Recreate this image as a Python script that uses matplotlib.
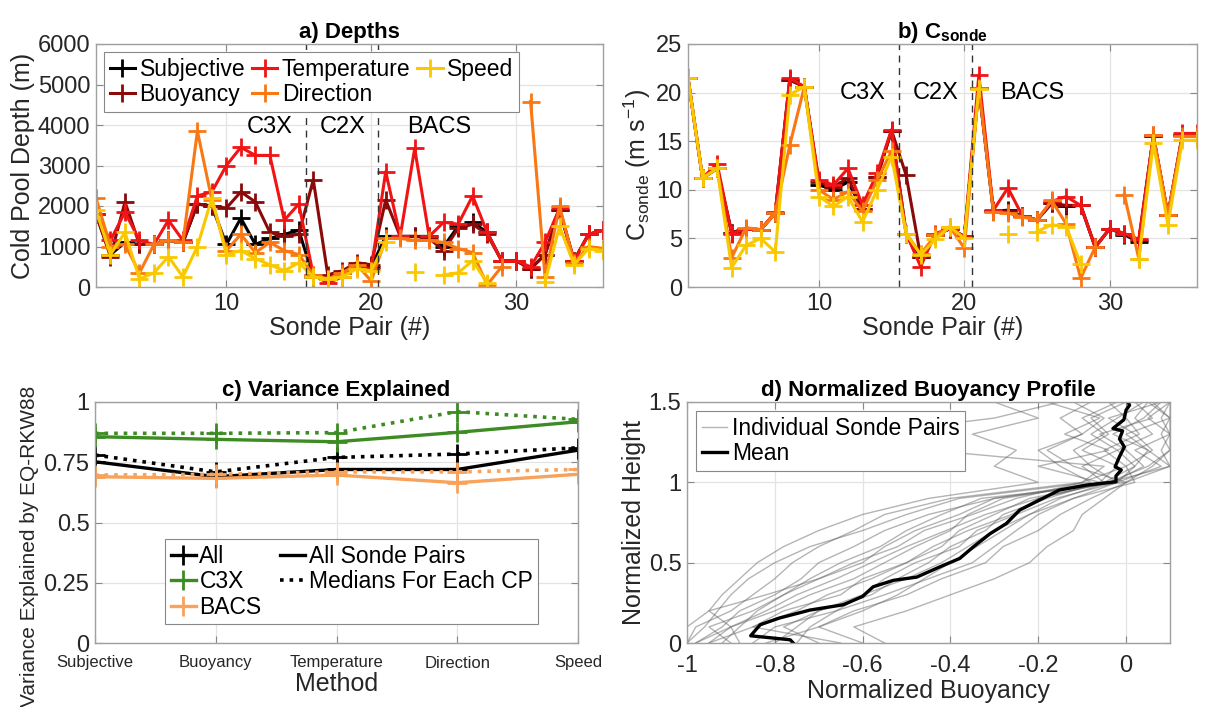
import numpy as np
import matplotlib
matplotlib.use("Agg")
import matplotlib.pyplot as plt
from matplotlib.lines import Line2D

plt.rcParams['font.family'] = ['Liberation Sans', 'DejaVu Sans']
plt.rcParams['mathtext.fontset'] = 'custom'
plt.rcParams['mathtext.rm'] = 'Liberation Sans'
plt.rcParams['mathtext.it'] = 'Liberation Sans:italic'
plt.rcParams['mathtext.bf'] = 'Liberation Sans:bold'

nan = np.nan
# ---------------- data ----------------
pairs = list(range(1, 37))

subj_a = [1800, 800, 1100, 1050, 1050, 1150, 1100, 2050, 2000, 1050, 1700, 1050, 1200, 1300, 1400, 250, 200, 350,
          550, 500, 1250, 1250, 1250, 1250, 1000, 1500, 1600, 1350, 650, 650, 450, 800, 1900, 650, 1300, 1400]
buoy_a = [1800, 750, 2100, 1050, 1050, 1150, 1100, 2050, 2000, 1950, 2350, 2100, 1350, 1250, 1300, 2650, 300, 400,
          600, 550, 2150, 1250, 1250, 1200, 900, 1450, 1550, 1300, 650, 650, 450, 800, 1900, 650, 1300, 1400]
temp_a = [1800, 1150, 1850, 1150, 1050, 1650, 1150, 2250, 2350, 3000, 3450, 3250, 3250, 1650, 2050, 300, 100, 250,
          500, 450, 2850, 1250, 3420, 1250, 1600, 1550, 2250, 1350, 650, 650, 500, 1100, 1950, 650, 1300, 1400]
dir_a = [2200, 1000, 1050, 350, 1050, 1150, 1100, 3850, 2150, 900, 1300, 850, 1100, 900, 800, 300, 200, 350,
         550, 150, 1200, 1200, 1150, 1150, 1100, 950, 850, 50, 500, nan, 4580, 250, 2000, 600, 1000, 950]
speed_a = [1900, 800, 1350, 200, 350, 750, 250, 1000, 2200, 800, 900, 700, 550, 400, 600, 250, 200, 250,
           450, 400, 1100, nan, 380, nan, 300, 350, 650, 100, nan, nan, nan, 130, 1500, 550, 950, 900]

subj_b = [21.5, 11.2, 12.2, 5.6, 6.0, 5.9, 7.6, 21.3, 20.6, 10.5, 10.0, 10.8, 8.0, 11.3, 16.1, 5.5, 3.1, 5.3,
          6.0, 5.2, 20.5, 7.8, 7.9, 7.3, 6.9, 8.6, 8.3, 8.4, 4.1, 6.0, 5.4, 4.6, 15.5, 7.4, 15.6, 15.6]
buoy_b = [21.5, 11.2, 12.2, 5.6, 6.0, 5.9, 7.6, 21.3, 20.6, 10.8, 10.3, 11.2, 8.0, 11.3, 16.1, 11.5, 3.1, 5.3,
          6.0, 5.2, 20.5, 7.8, 7.8, 7.3, 6.9, 8.6, 8.4, 8.4, 4.1, 6.0, 5.5, 4.8, 15.5, 7.4, 15.6, 15.6]
temp_b = [21.5, 11.2, 12.7, 5.5, 6.0, 5.9, 7.7, 21.5, 20.6, 11.0, 10.5, 12.2, 8.4, 11.7, 16.2, 5.5, 2.1, 5.5,
          6.0, 5.2, 21.8, 7.9, 10.2, 7.3, 6.9, 8.8, 9.3, 8.4, 4.1, 6.0, 5.5, 4.9, 15.6, 7.4, 15.8, 15.8]
dir_b = [21.5, 11.2, 12.2, 3.0, 6.1, 5.9, 7.6, 14.6, 20.6, 10.0, 9.0, 9.8, 7.8, 11.0, 14.0, 5.5, 3.4, 5.3,
         6.2, 4.0, 20.5, 7.7, 7.6, 7.2, 6.9, 8.9, 6.5, 0.9, 4.1, nan, 9.5, 2.9, 15.6, 7.4, 15.5, 15.5]
speed_b = [21.5, 11.2, 12.2, 2.0, 4.3, 5.0, 3.6, 19.8, 20.6, 9.3, 8.3, 9.3, 6.7, 10.0, 13.4, 5.5, 3.3, 4.9,
           6.2, 5.0, 20.4, nan, 5.5, nan, 5.7, 6.4, 6.2, 2.4, nan, nan, nan, 2.9, 14.8, 6.4, 15.1, 15.1]

methods = ['Subjective', 'Buoyancy', 'Temperature', 'Direction', 'Speed']
all_pairs = [0.752, 0.69, 0.72, 0.72, 0.80]
all_med = [0.78, 0.71, 0.77, 0.784, 0.81]
c3x_pairs = [0.856, 0.845, 0.835, 0.874, 0.918]
c3x_med = [0.87, 0.87, 0.873, 0.96, 0.928]
bacs_pairs = [0.69, 0.683, 0.697, 0.665, 0.70]
bacs_med = [0.697, 0.70, 0.71, 0.71, 0.72]

heights = [0.0, 0.1, 0.2, 0.3, 0.4, 0.5, 0.6, 0.7, 0.8, 0.9, 1.0, 1.1, 1.2, 1.3, 1.4, 1.5]
profiles = [
    [-0.95, -0.9, -0.82, -0.75, -0.66, -0.58, -0.5, -0.41, -0.32, -0.2, -0.05, 0.02, 0.05, -0.03, 0.04, 0.08],
    [-0.98, -0.92, -0.88, -0.8, -0.74, -0.7, -0.62, -0.55, -0.45, -0.3, -0.02, -0.08, -0.12, -0.05, -0.1, -0.02],
    [-0.7, -0.78, -0.7, -0.6, -0.5, -0.42, -0.36, -0.3, -0.22, -0.15, -0.04, 0.05, 0.1, 0.08, 0.1, 0.06],
    [-1.0, -0.96, -0.93, -0.9, -0.86, -0.8, -0.72, -0.6, -0.5, -0.38, -0.08, -0.15, -0.2, -0.1, -0.05, -0.12],
    [-0.85, -0.8, -0.66, -0.55, -0.45, -0.35, -0.3, -0.25, -0.2, -0.12, -0.02, 0.08, 0.02, 0.1, 0.05, 0.1],
    [-0.9, -0.95, -0.85, -0.78, -0.7, -0.62, -0.52, -0.46, -0.35, -0.25, -0.1, 0.0, -0.05, 0.03, 0.0, -0.04],
    [-0.6, -0.7, -0.62, -0.5, -0.42, -0.32, -0.28, -0.2, -0.15, -0.08, 0.0, 0.1, 0.08, 0.1, 0.1, 0.1],
    [-1.0, -1.0, -0.95, -0.92, -0.88, -0.84, -0.78, -0.7, -0.6, -0.45, -0.2, -0.3, -0.25, -0.35, -0.2, -0.3],
    [-0.8, -0.75, -0.7, -0.58, -0.52, -0.45, -0.4, -0.32, -0.28, -0.18, -0.06, -0.02, -0.1, -0.04, -0.08, 0.0],
    [-0.95, -0.85, -0.78, -0.65, -0.6, -0.5, -0.42, -0.38, -0.3, -0.22, -0.03, 0.04, 0.0, -0.06, 0.06, 0.02],
    [-0.55, -0.62, -0.5, -0.4, -0.3, -0.22, -0.18, -0.12, -0.1, -0.05, 0.0, 0.06, 0.1, 0.1, 0.08, 0.1],
    [-1.0, -0.98, -0.9, -0.85, -0.8, -0.76, -0.7, -0.62, -0.55, -0.4, -0.1, -0.05, -0.45, -0.6, -0.3, -0.15],
    [-0.88, -0.9, -0.8, -0.72, -0.62, -0.55, -0.48, -0.4, -0.36, -0.28, -0.05, -0.1, -0.02, -0.08, -0.02, 0.04],
    [-0.75, -0.72, -0.66, -0.6, -0.55, -0.48, -0.38, -0.34, -0.25, -0.16, -0.02, 0.02, -0.02, 0.06, 0.02, 0.05],
    [-0.92, -0.88, -0.84, -0.78, -0.72, -0.65, -0.56, -0.5, -0.42, -0.33, 0.0, -0.12, -0.18, -0.1, -0.15, -0.08],
    [-0.65, -0.85, -0.75, -0.68, -0.58, -0.5, -0.44, -0.36, -0.26, -0.2, -0.04, 0.1, 0.05, 0.0, 0.1, 0.05],
    [-0.98, -0.9, -0.95, -0.82, -0.7, -0.6, -0.55, -0.48, -0.38, -0.3, -0.06, -0.2, -0.04, -0.14, -0.06, -0.18],
    [-0.82, -0.7, -0.6, -0.52, -0.46, -0.4, -0.34, -0.28, -0.22, -0.12, 0.02, 0.0, 0.06, 0.02, -0.04, 0.08],
]

mean_b = [-0.758, -0.765, -0.855, -0.84, -0.833, -0.79, -0.72, -0.644, -0.6, -0.576, -0.53, -0.477, -0.424,
          -0.379, -0.348, -0.31, -0.273, -0.242, -0.197, -0.152, -0.09, -0.023, -0.023, -0.011, -0.025, -0.015,
          -0.004, -0.015, -0.008, -0.03, -0.005, 0.0, 0.008, 0.004]
mean_h = [0.0, 0.02, 0.045, 0.093, 0.114, 0.155, 0.205, 0.238, 0.29, 0.35, 0.39, 0.41, 0.474,
          0.526, 0.598, 0.68, 0.743, 0.828, 0.89, 0.952, 0.983, 1.004, 1.04, 1.077, 1.097, 1.16,
          1.22, 1.27, 1.32, 1.335, 1.39, 1.45, 1.48, 1.5]

# ---------------- styles ----------------
C_SUBJ = '#000000'
C_BUOY = '#8a0a0a'
C_TEMP = '#f01414'
C_DIR = '#fa7814'
C_SPD = '#fac800'
C_GREEN = '#3c8c23'
C_LORANGE = '#f8a35c'
GRID = '#e3e3e3'
SPINE = '#a0a0a0'
TXT = '#262626'

TICK_FS = 17
LAB_FS = 18
TITLE_FS = 16
LEG_FS = 16.5

fig = plt.figure(figsize=(12.11, 7.07), dpi=100)


def style_ax(ax, xpad=4):
    ax.grid(True, color=GRID, lw=0.9)
    ax.set_axisbelow(True)
    for s in ax.spines.values():
        s.set_color(SPINE)
        s.set_linewidth(1.0)
    ax.tick_params(direction='in', length=5, width=0.8, color='#888888', labelsize=TICK_FS,
                   labelcolor=TXT, top=True, right=True, pad=4)
    ax.tick_params(axis='x', pad=xpad)


# ---- panel a ----
axa = fig.add_axes([96 / 1211, 1 - 287 / 707, 507 / 1211, 243 / 707])
style_ax(axa)
series_a = [('Subjective', subj_a, C_SUBJ), ('Buoyancy', buoy_a, C_BUOY), ('Temperature', temp_a, C_TEMP),
            ('Direction', dir_a, C_DIR), ('Speed', speed_a, C_SPD)]
for name, vals, col in series_a:
    axa.plot(pairs, vals, color=col, lw=2.2, marker='+', ms=13, mew=2.0, label=name)
axa.axvline(15.5, color='#333333', ls='--', lw=1.0, dashes=(5, 4))
axa.axvline(20.5, color='#333333', ls='--', lw=1.0, dashes=(5, 4))
for lab, xx in [('C3X', 13.0), ('C2X', 18.0), ('BACS', 24.7)]:
    axa.text(xx, 3950, lab, ha='center', va='center', fontsize=17, color='black')
axa.set_xlim(1, 36)
axa.set_ylim(0, 6000)
axa.set_xticks([10, 20, 30])
axa.set_yticks(range(0, 6001, 1000))
axa.set_xlabel('Sonde Pair (#)', fontsize=LAB_FS, color=TXT, labelpad=1)
axa.set_ylabel('Cold Pool Depth (m)', fontsize=LAB_FS, color=TXT, labelpad=2)
axa.set_title('a) Depths', fontsize=TITLE_FS, fontweight='bold', pad=4)
leg = axa.legend(ncol=3, loc='upper left', fontsize=LEG_FS, handlelength=1.1, handletextpad=0.2,
                 columnspacing=0.3, borderpad=0.25, labelspacing=0.1, fancybox=False, framealpha=1,
                 borderaxespad=0.35)
leg.get_frame().set_edgecolor('#888888')
leg.get_frame().set_linewidth(0.8)

# ---- panel b ----
axb = fig.add_axes([688 / 1211, 1 - 287 / 707, 509 / 1211, 243 / 707])
style_ax(axb)
series_b = [('Subjective', subj_b, C_SUBJ), ('Buoyancy', buoy_b, C_BUOY), ('Temperature', temp_b, C_TEMP),
            ('Direction', dir_b, C_DIR), ('Speed', speed_b, C_SPD)]
for name, vals, col in series_b:
    axb.plot(pairs, vals, color=col, lw=2.2, marker='+', ms=13, mew=2.0, label=name)
axb.axvline(15.5, color='#333333', ls='--', lw=1.0, dashes=(5, 4))
axb.axvline(20.5, color='#333333', ls='--', lw=1.0, dashes=(5, 4))
for lab, xx in [('C3X', 13.0), ('C2X', 18.0), ('BACS', 24.7)]:
    axb.text(xx, 20, lab, ha='center', va='center', fontsize=17, color='black')
axb.set_xlim(1, 36)
axb.set_ylim(0, 25)
axb.set_xticks([10, 20, 30])
axb.set_yticks(range(0, 26, 5))
axb.set_xlabel('Sonde Pair (#)', fontsize=LAB_FS, color=TXT, labelpad=1)
axb.set_ylabel(r'C$_{\mathrm{sonde}}$ (m s$^{-1}$)', fontsize=LAB_FS, color=TXT, labelpad=2)
axb.set_title(r'b) C$_{\mathbf{sonde}}$', fontsize=TITLE_FS, fontweight='bold', pad=4)

# ---- panel c ----
axc = fig.add_axes([95 / 1211, 1 - 643 / 707, 483 / 1211, 241 / 707])
style_ax(axc, xpad=9)
xm = list(range(1, len(methods) + 1))
for pv, mv, col in [(all_pairs, all_med, C_SUBJ), (c3x_pairs, c3x_med, C_GREEN), (bacs_pairs, bacs_med, C_LORANGE)]:
    axc.plot(xm, pv, color=col, lw=2.4, ls='-', marker='+', ms=15, mew=2.0)
    axc.plot(xm, mv, color=col, lw=2.6, ls=':', marker='+', ms=15, mew=2.0)
axc.set_xlim(1, 5)
axc.set_ylim(0, 1)
axc.set_xticks(xm)
axc.set_xticklabels(methods, fontsize=12)
axc.set_yticks([0, 0.25, 0.5, 0.75, 1])
axc.set_yticklabels(['0', '0.25', '0.5', '0.75', '1'])
axc.set_xlabel('Method', fontsize=LAB_FS, color=TXT, labelpad=1)
axc.set_ylabel('Variance Explained by EQ-RKW88', fontsize=15, color=TXT)
axc.yaxis.set_label_coords(-0.115, 0.40)
axc.set_title('c) Variance Explained', fontsize=TITLE_FS, fontweight='bold', pad=4)
handles = [Line2D([], [], color=C_SUBJ, lw=2.4, marker='+', ms=15, mew=2.0),
           Line2D([], [], color=C_GREEN, lw=2.4, marker='+', ms=15, mew=2.0),
           Line2D([], [], color=C_LORANGE, lw=2.4, marker='+', ms=15, mew=2.0),
           Line2D([], [], color='black', lw=2.4, ls='-'),
           Line2D([], [], color='black', lw=2.6, ls=':'),
           Line2D([], [], color='none')]
labels = ['All', 'C3X', 'BACS', 'All Sonde Pairs', 'Medians For Each CP', '']
legc = axc.legend(handles, labels, ncol=2, loc='upper left', bbox_to_anchor=(0.145, 0.43), fontsize=LEG_FS,
                  handlelength=1.1, handletextpad=0.15, columnspacing=0.8, borderpad=0.25,
                  labelspacing=0.1, fancybox=False, framealpha=1, borderaxespad=0)
legc.get_frame().set_edgecolor('#888888')
legc.get_frame().set_linewidth(0.8)

# ---- panel d ----
axd = fig.add_axes([687 / 1211, 1 - 643 / 707, 483 / 1211, 241 / 707])
style_ax(axd, xpad=9)
for i, prof in enumerate(profiles):
    axd.plot(prof, heights, color='#5a5a5a', lw=1.0, alpha=0.45,
             label='Individual Sonde Pairs' if i == 0 else None)
axd.plot(mean_b, mean_h, color='black', lw=2.4, label='Mean')
axd.set_xlim(-1, 0.1)
axd.set_ylim(0, 1.5)
axd.set_xticks([-1, -0.8, -0.6, -0.4, -0.2, 0])
axd.set_xticklabels(['-1', '-0.8', '-0.6', '-0.4', '-0.2', '0'])
axd.set_yticks([0, 0.5, 1, 1.5])
axd.set_yticklabels(['0', '0.5', '1', '1.5'])
axd.set_xlabel('Normalized Buoyancy', fontsize=LAB_FS, color=TXT, labelpad=1)
axd.set_ylabel('Normalized Height', fontsize=LAB_FS, color=TXT, labelpad=2)
axd.set_title('d) Normalized Buoyancy Profile', fontsize=TITLE_FS, fontweight='bold', pad=4)
legd = axd.legend(loc='upper left', fontsize=LEG_FS, handlelength=1.1, handletextpad=0.2, borderpad=0.25,
                  labelspacing=0.1, fancybox=False, framealpha=1, borderaxespad=0.4)
legd.get_frame().set_edgecolor('#888888')
legd.get_frame().set_linewidth(0.8)

fig.savefig('out.png', dpi=100)
